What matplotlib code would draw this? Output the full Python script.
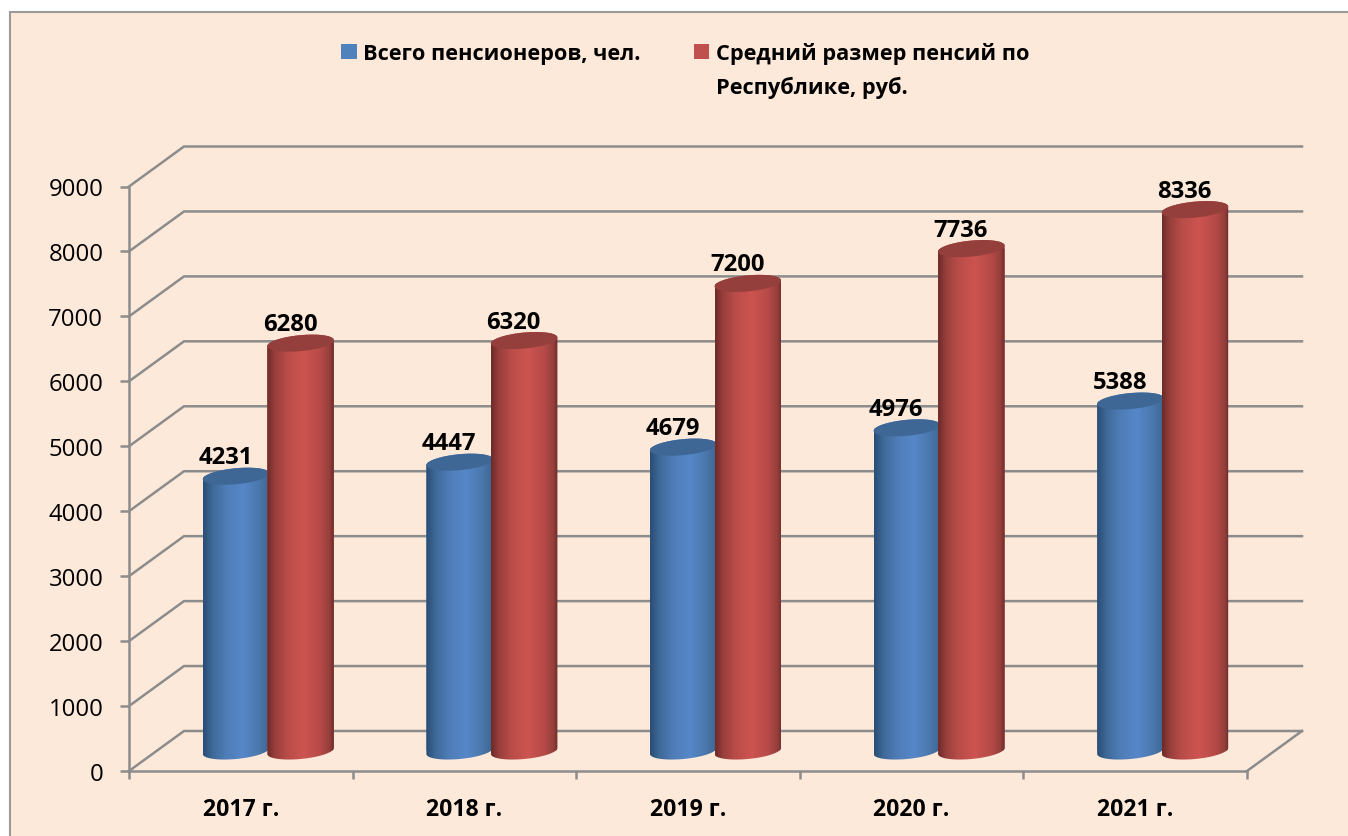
import numpy as np
import matplotlib
matplotlib.use("Agg")
import matplotlib.pyplot as plt
from matplotlib.colors import LinearSegmentedColormap
from matplotlib.patches import PathPatch, Rectangle, Patch
from matplotlib.path import Path

#### DATA ######
years = ["2017 г.", "2018 г.", "2019 г.", "2020 г.", "2021 г."]
pensioners = [4231, 4447, 4679, 4976, 5388]
avg_pension = [6280, 6320, 7200, 7736, 8336]
yticks = [0, 1000, 2000, 3000, 4000, 5000, 6000, 7000, 8000, 9000]
name_blue = "Всего пенсионеров, чел."
name_red = ["Средний размер пенсий по", "Республике, руб."]
################

W, H = 1348, 837
plt.rcParams["font.family"] = ["Open Sans", "DejaVu Sans"]
BG = "#fde9d9"
GRID = "#8c8c8c"
LW = 1.8

fig = plt.figure(figsize=(W / 100, H / 100), dpi=100, facecolor="white")
fig.patches.append(Rectangle((9.5 / W, -0.01), 1, 1.01 - 12.5 / H, transform=fig.transFigure,
                             fc=BG, ec="#9a9a9a", lw=1.5, zorder=-5))

ax = fig.add_axes([129 / W, 1 - 772 / H, 1118 / W, 584.5 / H])
ax.patch.set_visible(False)

n = len(years)
px_x = n / 1118  # one pixel in axis units
px_y = 9000 / 584.5
depth_x = 55 * px_x
depth_y = 40 * px_y
lift = 20 * px_y  # bars stand half way into the floor
bar_w = 66.5 * px_x
step = 32.25 * px_x
a = bar_w / 2
b = 8 * px_y
tilt = 3 * px_y

# walls and floor
for v in yticks:
    ax.plot([0, depth_x, n + depth_x], [v, v + depth_y, v + depth_y], color=GRID,
            lw=LW, clip_on=False, zorder=1, solid_joinstyle="miter")
ax.plot([n, n + depth_x], [0, depth_y], color=GRID, lw=LW, clip_on=False, zorder=1)

cmap_blue = LinearSegmentedColormap.from_list(
    "cyl_blue", [(0, "#2b4d74"), (0.15, "#3f6a9a"), (0.35, "#4f7db8"), (0.6, "#5687c8"),
                 (0.85, "#4a76aa"), (1, "#3d6593")])
cmap_red = LinearSegmentedColormap.from_list(
    "cyl_red", [(0, "#6d2a28"), (0.12, "#98403c"), (0.3, "#b84c48"), (0.55, "#cd5450"),
                (0.8, "#b54a47"), (0.93, "#97403d"), (1, "#6f2b29")])
grad = np.linspace(0, 1, 256).reshape(1, -1)


def cylinder(xc, val, cmap, flat, top_col, z):
    bar = ax.bar(xc, val, bar_w, bottom=lift, color=flat, linewidth=0, zorder=z)[0]
    t = np.linspace(np.pi, 2 * np.pi, 60)  # lower half, left to right
    xs_low = xc + a * np.cos(t)
    ys_low = lift + b * np.sin(t) + tilt * np.cos(t)
    t2 = np.linspace(0, np.pi, 60)  # upper half, right to left
    xs_up = xc + a * np.cos(t2)
    ys_up = lift + val + b * np.sin(t2) + tilt * np.cos(t2)
    outline = np.column_stack([np.r_[xs_low, xs_up], np.r_[ys_low, ys_up]])
    clip = PathPatch(Path(outline), transform=ax.transData, fc="none", ec="none", zorder=z)
    ax.add_patch(clip)
    bar.set_clip_path(clip)
    im = ax.imshow(grad, extent=[xc - a, xc + a, 0, 9000], aspect="auto", cmap=cmap,
                   interpolation="bilinear", zorder=z + 0.1)
    im.set_clip_path(clip)
    tt = np.linspace(0, 2 * np.pi, 120)
    top = np.column_stack([xc + a * np.cos(tt), lift + val + b * np.sin(tt) + tilt * np.cos(tt)])
    ax.add_patch(PathPatch(Path(top), fc=top_col, ec="none", zorder=z + 0.2))
    # label sits up and to the left of the cap
    ax.annotate(str(val), (xc, val + lift), xytext=(-10.5 * 0.72, 19 * 0.72),
                textcoords="offset points", ha="center", va="center",
                fontsize=17.2, fontweight="bold", color="black", zorder=50)


z = 3
for i in range(n):
    xmid = i + 0.5 + depth_x / 2
    cylinder(xmid - step, pensioners[i], cmap_blue, "#4f81bd", "#3f6796", z)
    cylinder(xmid + step, avg_pension[i], cmap_red, "#c0504d", "#943f3c", z + 1)
    z += 2

ax.set_xlim(0, n)
ax.set_ylim(0, 9000)
ax.spines[["top", "right"]].set_visible(False)
ax.spines[["left", "bottom"]].set_color(GRID)
ax.spines[["left", "bottom"]].set_linewidth(LW)
ax.set_yticks(yticks)
ax.set_xticks(np.arange(n + 1))
ax.set_xticks(np.arange(n) + 0.5, minor=True)
ax.set_xticklabels(years, minor=True, fontsize=16.6, fontweight="bold")
ax.set_xticklabels([])
ax.tick_params(axis="y", length=6.5, width=LW, color=GRID, labelsize=17.2, pad=12)
ax.tick_params(axis="x", which="major", length=6, width=LW, color=GRID)
ax.tick_params(axis="x", which="minor", length=0, pad=19)

handles = [Patch(fc="#4f81bd"), Patch(fc="none", ec="none"),
           Patch(fc="#c0504d"), Patch(fc="none", ec="none")]
labels = [name_blue, "", name_red[0], name_red[1]]
leg = fig.legend(handles, labels, ncol=2, loc="upper left", frameon=False,
                 bbox_to_anchor=(341 / W, 1 - 43 / H), borderaxespad=0, borderpad=0,
                 prop={"weight": "bold", "size": 15.7, "family": "Open Sans"},
                 handlelength=0.73, handleheight=0.73, handletextpad=0.28,
                 columnspacing=2.43, labelspacing=0.52)

fig.savefig("out.png", dpi=100, facecolor=fig.get_facecolor())
